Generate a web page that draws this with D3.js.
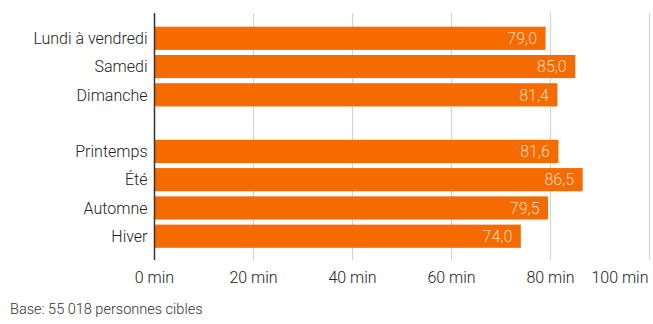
<!DOCTYPE html>
<html>
<head>
<meta charset="utf-8">
<script src="https://cdn.jsdelivr.net/npm/d3@7"></script>
<style>
  body { margin: 0; background: #fff; }
  text { font-family: Roboto, "Noto Sans", sans-serif; }
</style>
</head>
<body>
<svg id="chart" width="653" height="324"></svg>
<script>
// categories (a blank slot separates the two groups)
const categories = ["Lundi à vendredi", "Samedi", "Dimanche", "", "Printemps", "Été", "Automne", "Hiver"];
const values = [79.0, 85.0, 81.4, null, 81.6, 86.5, 79.5, 74.0];
const ticks = [0, 20, 40, 60, 80, 100];
const note = "Base: 55 018 personnes cibles";

const data = categories.map((c, i) => ({key: c || "blank", label: c, value: values[i]}));

let svg = d3.select("#chart");

let x = d3.scaleLinear().domain([0, 100]).range([154.5, 649.5]);
let y = d3.scaleBand()
    .domain(data.map(d => d.key))
    .range([26.7, 247.8])
    .paddingInner(0.18)
    .paddingOuter(0);

let gridTop = 13, gridBottom = 260;

// gridlines
svg.append("g")
    .selectAll("line")
    .data(ticks.filter(t => t > 0))
    .enter().append("line")
    .attr("x1", d => x(d)).attr("x2", d => x(d))
    .attr("y1", gridTop).attr("y2", gridBottom)
    .attr("stroke", "#d4d4d4")
    .attr("stroke-width", 1.2);

// bars
let bars = data.filter(d => d.value != null);
svg.append("g")
    .selectAll("rect")
    .data(bars)
    .enter().append("rect")
    .attr("x", x(0))
    .attr("y", d => y(d.key))
    .attr("width", d => x(d.value) - x(0))
    .attr("height", y.bandwidth())
    .attr("fill", "#f56b00");

// value labels
svg.append("g")
    .selectAll("text")
    .data(bars)
    .enter().append("text")
    .attr("x", d => x(d.value) - 8.5)
    .attr("y", d => y(d.key) + y.bandwidth() / 2)
    .attr("dy", "0.36em")
    .attr("text-anchor", "end")
    .attr("font-size", 16)
    .attr("font-weight", 300)
    .attr("fill", "#fdd9bd")
    .text(d => d3.format(".1f")(d.value).replace(".", ","));

// category labels
svg.append("g")
    .selectAll("text")
    .data(bars)
    .enter().append("text")
    .attr("x", 147.5)
    .attr("y", d => y(d.key) + y.bandwidth() / 2)
    .attr("dy", "0.36em")
    .attr("text-anchor", "end")
    .attr("font-size", 16)
    .attr("font-weight", 300)
    .attr("fill", "#222")
    .text(d => d.label);

// vertical axis line
svg.append("line")
    .attr("x1", x(0)).attr("x2", x(0))
    .attr("y1", gridTop).attr("y2", gridBottom)
    .attr("stroke", "#333")
    .attr("stroke-width", 1.5);

// x axis tick labels
svg.append("g")
    .selectAll("text")
    .data(ticks)
    .enter().append("text")
    .attr("x", d => d === 100 ? x(d) - 1 : x(d))
    .attr("y", 283)
    .attr("text-anchor", d => d === 100 ? "end" : "middle")
    .attr("font-size", 16)
    .attr("font-weight", 300)
    .attr("fill", "#222")
    .text(d => d + " min");

// footnote
svg.append("text")
    .attr("x", 10)
    .attr("y", 314)
    .attr("font-size", 14.5)
    .attr("font-weight", 300)
    .attr("fill", "#333")
    .text(note);
</script>
</body>
</html>
